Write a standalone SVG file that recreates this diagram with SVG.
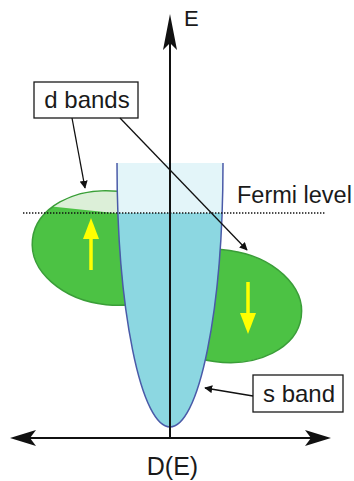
<svg xmlns="http://www.w3.org/2000/svg" width="354" height="481" viewBox="0 0 354 481">
<style>
text{font-family:"Liberation Sans",Arial,sans-serif;fill:#1a1a1a}
.green{fill:#4cc244;stroke:#3a9e38;stroke-width:1.5}
.light{fill:#dcefd8}
.box{fill:#fff;stroke:#1a1a1a;stroke-width:1.3}
.conn{stroke:#111;stroke-width:1.3;fill:none}
.axis{stroke:#111;stroke-width:2;fill:none}
.yarrow{stroke:#ffff00;stroke-width:3.5;fill:none}
</style>
<defs>
<marker id="ah" viewBox="0 0 10 10" refX="9" refY="5" markerWidth="8" markerHeight="8" markerUnits="userSpaceOnUse" orient="auto"><path d="M0,0 L10,5 L0,10 Z" fill="#111"/></marker>
<clipPath id="aboveF"><rect x="0" y="0" width="354" height="213"/></clipPath>
<clipPath id="belowF"><rect x="0" y="213" width="354" height="300"/></clipPath>
</defs>
<g id="d-band-up">
<ellipse class="green" cx="112" cy="248" rx="80" ry="57" transform="rotate(6 112 248)"/>
<ellipse class="light" cx="112" cy="248" rx="79.3" ry="56.3" transform="rotate(6 112 248)" clip-path="url(#aboveF)"/>
<line class="yarrow" x1="91" y1="270" x2="91" y2="234"/>
<path d="M91,218 L99,239 L83,239 Z" fill="#ffff00"/>
</g>
<g id="d-band-down">
<ellipse class="green" cx="222" cy="306" rx="80" ry="56" transform="rotate(8 222 306)"/>
<line class="yarrow" x1="248" y1="282" x2="248" y2="318"/>
<path d="M248,334 L256,313 L240,313 Z" fill="#ffff00"/>
</g>
<g id="s-band">
<path d="M117,163 A53,264 0 0 0 223,163 Z" fill="#e3f5f9" clip-path="url(#aboveF)"/>
<path d="M117,163 A53,264 0 0 0 223,163 Z" fill="#8cd7e1" clip-path="url(#belowF)"/>
<path d="M117,163 A53,264 0 0 0 223,163" fill="none" stroke="#4a5aa8" stroke-width="1.5"/>
</g>
<g id="fermi">
<line x1="23" y1="213" x2="325" y2="213" stroke="#111" stroke-width="1.4" stroke-dasharray="1.4 1.6"/>
<text x="237" y="203" font-size="23.5">Fermi level</text>
</g>
<g id="axes">
<line class="axis" x1="170" y1="438" x2="170" y2="40"/>
<path d="M170,14 L177,50 L170,43 L163,50 Z" fill="#111"/>
<text x="184" y="26" font-size="22">E</text>
<line class="axis" x1="25" y1="438" x2="318" y2="438"/>
<path d="M10,438 L36,430 L30,438 L36,446 Z" fill="#111"/>
<path d="M331,438 L305,430 L311,438 L305,446 Z" fill="#111"/>
<text x="172.5" y="475" font-size="25" text-anchor="middle">D(E)</text>
</g>
<g id="d-bands-label">
<rect class="box" x="34" y="82" width="104" height="36"/>
<text x="87" y="108" font-size="24" text-anchor="middle">d bands</text>
</g>
<g id="s-band-label">
<rect class="box" x="253" y="375" width="90" height="37"/>
<text x="299" y="402" font-size="24" text-anchor="middle">s band</text>
</g>
<g id="connectors">
<line class="conn" x1="72" y1="118" x2="85" y2="188" marker-end="url(#ah)"/>
<line class="conn" x1="120" y1="118" x2="247" y2="250" marker-end="url(#ah)"/>
<line class="conn" x1="253" y1="396" x2="205" y2="388" marker-end="url(#ah)"/>
</g>
</svg>
